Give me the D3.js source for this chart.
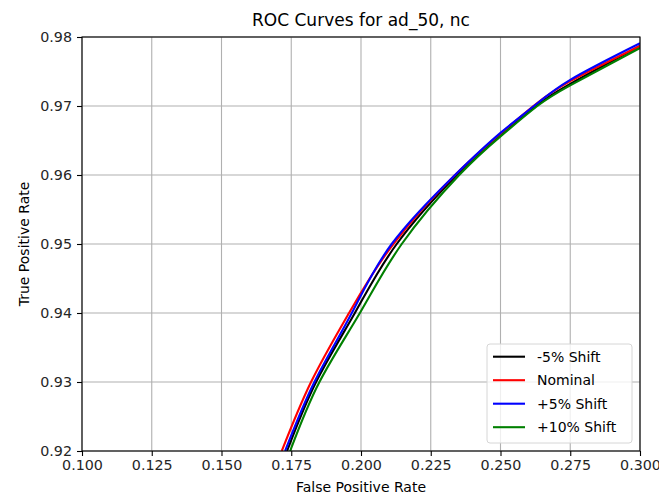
<!DOCTYPE html>
<html>
<head>
<meta charset="utf-8">
<script src="https://cdn.jsdelivr.net/npm/d3@7"></script>
<style>
  body { margin: 0; background: #fff; }
  svg { font-family: "DejaVu Sans", sans-serif; }
</style>
</head>
<body>
<svg id="chart" width="659" height="495"></svg>
<script>
// ---- data ----
const seriesNames = ["-5% Shift", "Nominal", "+5% Shift", "+10% Shift"];
const seriesColors = ["#000000", "#ff0000", "#0000ff", "#008000"];

const fprMinus5 = [0.1735, 0.1839, 0.1978, 0.2128, 0.2344, 0.2500, 0.2626, 0.2750, 0.3000];
const tprMinus5 = [0.9200, 0.9300, 0.9400, 0.9500, 0.9600, 0.9658, 0.9700, 0.9732, 0.9787];

const fprNominal = [0.1716, 0.1821, 0.1957, 0.2116, 0.2337, 0.2500, 0.2618, 0.2750, 0.3000];
const tprNominal = [0.9200, 0.9300, 0.9400, 0.9500, 0.9600, 0.9660, 0.9700, 0.9736, 0.9787];

const fprPlus5 = [0.1728, 0.1833, 0.1967, 0.2110, 0.2337, 0.2500, 0.2620, 0.2750, 0.3000];
const tprPlus5 = [0.9200, 0.9300, 0.9400, 0.9500, 0.9600, 0.9661, 0.9700, 0.9738, 0.9791];

const fprPlus10 = [0.1746, 0.1851, 0.1996, 0.2146, 0.2352, 0.2500, 0.2632, 0.2750, 0.3000];
const tprPlus10 = [0.9200, 0.9300, 0.9400, 0.9500, 0.9600, 0.9656, 0.9700, 0.9730, 0.9784];

const xTicks = [0.100, 0.125, 0.150, 0.175, 0.200, 0.225, 0.250, 0.275, 0.300];
const yTicks = [0.92, 0.93, 0.94, 0.95, 0.96, 0.97, 0.98];

const seriesFpr = [fprMinus5, fprNominal, fprPlus5, fprPlus10];
const seriesTpr = [tprMinus5, tprNominal, tprPlus5, tprPlus10];

// ---- layout ----
const margin = { left: 82, top: 37, right: 640, bottom: 451 };

const svg = d3.select("#chart");

const xScale = d3.scaleLinear().domain([0.1, 0.3]).range([margin.left, margin.right]);
const yScale = d3.scaleLinear().domain([0.92, 0.98]).range([margin.bottom, margin.top]);

// clip path for the curves
svg.append("defs").append("clipPath").attr("id", "plotclip")
  .append("rect")
  .attr("x", margin.left).attr("y", margin.top)
  .attr("width", margin.right - margin.left)
  .attr("height", margin.bottom - margin.top);

// grid
svg.append("g").attr("class", "grid")
  .selectAll("line.gx").data(xTicks).join("line")
  .attr("x1", d => xScale(d)).attr("x2", d => xScale(d))
  .attr("y1", margin.top).attr("y2", margin.bottom)
  .attr("stroke", "#b0b0b0").attr("stroke-width", 1.1);
svg.append("g").attr("class", "grid")
  .selectAll("line.gy").data(yTicks).join("line")
  .attr("y1", d => yScale(d)).attr("y2", d => yScale(d))
  .attr("x1", margin.left).attr("x2", margin.right)
  .attr("stroke", "#b0b0b0").attr("stroke-width", 1.1);

// curves (smoothed, the source ROC curves have many small steps)
const line = d3.line()
  .x(d => xScale(d[0]))
  .y(d => yScale(d[1]))
  .curve(d3.curveNatural);

const curves = svg.append("g").attr("clip-path", "url(#plotclip)");
seriesNames.forEach((name, i) => {
  const pts = seriesFpr[i].map((f, j) => [f, seriesTpr[i][j]]);
  curves.append("path")
    .attr("d", line(pts))
    .attr("fill", "none")
    .attr("stroke", seriesColors[i])
    .attr("stroke-width", 2.1)
    .attr("stroke-linejoin", "round");
});

// axes
const xAxis = d3.axisBottom(xScale).tickValues(xTicks).tickFormat(d3.format(".3f")).tickSize(5).tickPadding(4);
const yAxis = d3.axisLeft(yScale).tickValues(yTicks).tickFormat(d3.format(".2f")).tickSize(5).tickPadding(5);

const gx = svg.append("g").attr("transform", `translate(0,${margin.bottom})`).call(xAxis);
const gy = svg.append("g").attr("transform", `translate(${margin.left},0)`).call(yAxis);
[gx, gy].forEach(g => {
  g.select(".domain").remove();
  g.selectAll(".tick line").attr("stroke", "#000").attr("stroke-width", 1.1);
  g.selectAll(".tick text").attr("fill", "#262626").attr("font-size", 14.3).attr("font-family", "DejaVu Sans");
});

// frame
svg.append("rect")
  .attr("x", margin.left).attr("y", margin.top)
  .attr("width", margin.right - margin.left)
  .attr("height", margin.bottom - margin.top)
  .attr("fill", "none").attr("stroke", "#000").attr("stroke-width", 1.1);

// title and labels
svg.append("text")
  .attr("x", (margin.left + margin.right) / 2).attr("y", 26)
  .attr("text-anchor", "middle").attr("font-size", 17).attr("fill", "#000")
  .text("ROC Curves for ad_50, nc");

svg.append("text")
  .attr("x", (margin.left + margin.right) / 2).attr("y", 492)
  .attr("text-anchor", "middle").attr("font-size", 14).attr("fill", "#000")
  .text("False Positive Rate");

svg.append("text")
  .attr("transform", `translate(29,${(margin.top + margin.bottom) / 2}) rotate(-90)`)
  .attr("text-anchor", "middle").attr("font-size", 14).attr("fill", "#000")
  .text("True Positive Rate");

// legend
const legend = svg.append("g").attr("transform", "translate(487,344)");
legend.append("rect")
  .attr("width", 145).attr("height", 99).attr("rx", 3)
  .attr("fill", "#fff").attr("fill-opacity", 0.8)
  .attr("stroke", "#d6d6d6").attr("stroke-width", 1);
seriesNames.forEach((name, i) => {
  const cy = 12.7 + i * 23.5;
  legend.append("line")
    .attr("x1", 6).attr("x2", 38).attr("y1", cy).attr("y2", cy)
    .attr("stroke", seriesColors[i]).attr("stroke-width", 2.1);
  legend.append("text")
    .attr("x", 50).attr("y", cy).attr("dy", "0.35em")
    .attr("font-size", 14).attr("fill", "#000")
    .text(name);
});
</script>
</body>
</html>
